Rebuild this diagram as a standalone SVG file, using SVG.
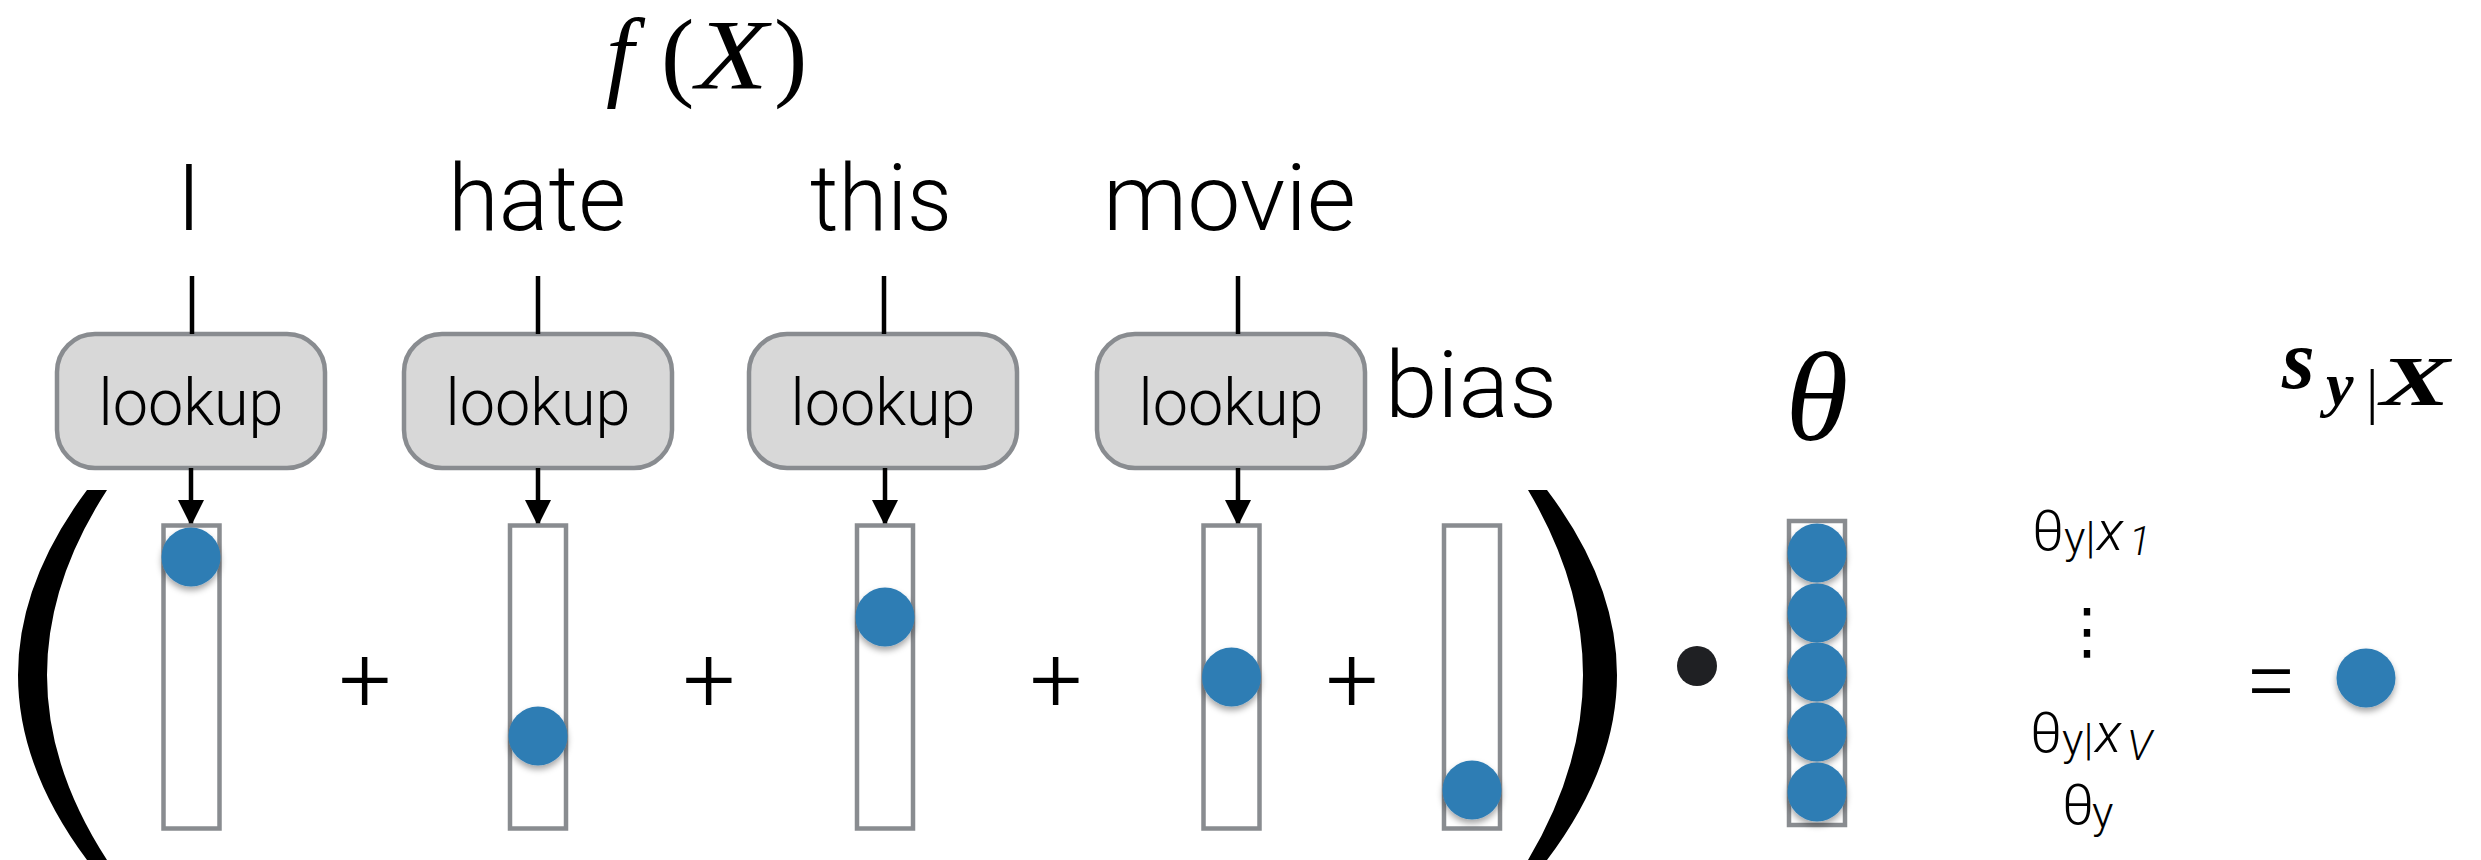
<svg xmlns="http://www.w3.org/2000/svg" width="2481" height="860" viewBox="0 0 2481 860">
<style>
.w{font-family:"Roboto","Liberation Sans",sans-serif;font-weight:300;font-size:93px;fill:#000}
.lk{font-family:"Roboto","Liberation Sans",sans-serif;font-weight:300;font-size:64px;fill:#000;text-anchor:middle}
.op{font-family:"Roboto","Liberation Sans",sans-serif;font-weight:300;font-size:93px;fill:#000;text-anchor:middle}
.box{fill:#d8d8d8;stroke:#898c90;stroke-width:4.5}
.vec{fill:#fff;stroke:#898c90;stroke-width:4.5}
.dotc{fill:#2f7db4;filter:url(#sh)}
.ln{stroke:#000;stroke-width:4.5;fill:none}
.math{font-family:"Liberation Serif",serif;fill:#000}
.lab{font-family:"Roboto","Liberation Sans",sans-serif;font-weight:300;fill:#000}
</style>
<defs>
<filter id="sh" x="-50%" y="-50%" width="200%" height="200%">
<feDropShadow dx="0" dy="4" stdDeviation="3" flood-color="#000" flood-opacity="0.35"/>
</filter>
<marker id="ah" viewBox="0 0 26 26" refX="26" refY="13" markerWidth="26" markerHeight="26" markerUnits="userSpaceOnUse" orient="auto">
<path d="M0,0 L26,13 L0,26 Z" fill="#000"/>
</marker>
</defs>
<rect width="2481" height="860" fill="#fff"/>

<g id="title">
<text class="math" x="606" y="88" font-size="100" font-style="italic">f</text>
<text class="math" x="661" y="88" font-size="100">(</text>
<text class="math" x="696" y="88" font-size="100" font-style="italic" textLength="72" lengthAdjust="spacingAndGlyphs">X</text>
<text class="math" x="774" y="88" font-size="100">)</text>
</g>

<g id="words">
<text id="w-I" class="w" x="189" y="230" text-anchor="middle">I</text>
<text id="w-hate" class="w" x="448" y="230" textLength="178" lengthAdjust="spacingAndGlyphs">hate</text>
<text id="w-this" class="w" x="810" y="230" textLength="142" lengthAdjust="spacingAndGlyphs">this</text>
<text id="w-movie" class="w" x="1103" y="230" textLength="253" lengthAdjust="spacingAndGlyphs">movie</text>
<text id="w-bias" class="w" x="1385" y="417" textLength="172" lengthAdjust="spacingAndGlyphs">bias</text>
</g>

<g id="lookup1"><rect class="box" x="57" y="334" width="268" height="134" rx="38"/><text class="lk" x="191" y="425" textLength="185" lengthAdjust="spacingAndGlyphs">lookup</text></g>
<g id="lookup2"><rect class="box" x="404" y="334" width="268" height="134" rx="38"/><text class="lk" x="538" y="425" textLength="185" lengthAdjust="spacingAndGlyphs">lookup</text></g>
<g id="lookup3"><rect class="box" x="749" y="334" width="268" height="134" rx="38"/><text class="lk" x="883" y="425" textLength="185" lengthAdjust="spacingAndGlyphs">lookup</text></g>
<g id="lookup4"><rect class="box" x="1097" y="334" width="268" height="134" rx="38"/><text class="lk" x="1231" y="425" textLength="185" lengthAdjust="spacingAndGlyphs">lookup</text></g>

<g id="connectors">
<line class="ln" x1="192" y1="276" x2="192" y2="334"/>
<line class="ln" x1="538" y1="276" x2="538" y2="334"/>
<line class="ln" x1="884" y1="276" x2="884" y2="334"/>
<line class="ln" x1="1238" y1="276" x2="1238" y2="334"/>
<line class="ln" x1="191" y1="468" x2="191" y2="526" marker-end="url(#ah)"/>
<line class="ln" x1="538" y1="468" x2="538" y2="526" marker-end="url(#ah)"/>
<line class="ln" x1="885" y1="468" x2="885" y2="526" marker-end="url(#ah)"/>
<line class="ln" x1="1238" y1="468" x2="1238" y2="526" marker-end="url(#ah)"/>
</g>

<g id="paren-left"><path d="M87,490 L107,490 Q-13,675 107,860 L87,860 Q-51,675 87,490 Z" fill="#000"/></g>
<g id="paren-right"><path d="M1528,490 L1547,490 Q1687,675 1547,860 L1528,860 Q1638,675 1528,490 Z" fill="#000"/></g>

<g id="vec1"><rect class="vec" x="163.5" y="525.5" width="56" height="303"/><circle class="dotc" cx="191" cy="557" r="29.5"/></g>
<g id="vec2"><rect class="vec" x="510" y="525.5" width="56" height="303"/><circle class="dotc" cx="538" cy="736" r="29.5"/></g>
<g id="vec3"><rect class="vec" x="857" y="525.5" width="56" height="303"/><circle class="dotc" cx="885" cy="617" r="29.5"/></g>
<g id="vec4"><rect class="vec" x="1203.5" y="525.5" width="56" height="303"/><circle class="dotc" cx="1231.5" cy="677" r="29.5"/></g>
<g id="vec-bias"><rect class="vec" x="1444" y="525.5" width="56" height="303"/><circle class="dotc" cx="1472" cy="790" r="29.5"/></g>

<g id="ops">
<text class="op" x="365" y="711">+</text>
<text class="op" x="709" y="711">+</text>
<text class="op" x="1056" y="711">+</text>
<text class="op" x="1352" y="711">+</text>
<circle cx="1697" cy="666" r="20" fill="#1f2023"/>
<text class="op" x="2271" y="712">=</text>
</g>

<g id="theta-vec">
<text class="math" x="1817" y="440" font-size="128" font-style="italic" text-anchor="middle">θ</text>
<rect class="vec" x="1789" y="521" width="56" height="304"/>
<circle class="dotc" cx="1817" cy="553" r="29.5"/>
<circle class="dotc" cx="1817" cy="613" r="29.5"/>
<circle class="dotc" cx="1817" cy="672" r="29.5"/>
<circle class="dotc" cx="1817" cy="732" r="29.5"/>
<circle class="dotc" cx="1817" cy="792" r="29.5"/>
</g>

<g id="theta-labels">
<text class="lab" y="550" font-size="56"><tspan x="2032">θ</tspan><tspan x="2064" y="553" font-size="45">y|</tspan><tspan x="2097" y="550" font-style="italic">x</tspan><tspan x="2129" y="555" font-size="40" font-style="italic">1</tspan></text>
<text x="2087" y="652" font-family="DejaVu Sans,sans-serif" font-size="62" text-anchor="middle">⋮</text>
<text class="lab" y="752" font-size="56"><tspan x="2030">θ</tspan><tspan x="2062" y="755" font-size="45">y|</tspan><tspan x="2095" y="752" font-style="italic">x</tspan><tspan x="2127" y="760" font-size="42" font-style="italic">V</tspan></text>
<text class="lab" y="824" font-size="56"><tspan x="2062">θ</tspan><tspan x="2092" y="828" font-size="45">y</tspan></text>
</g>

<g id="score">
<text class="math" x="2282" y="388" font-size="84" font-style="italic" font-weight="bold">s</text>
<text class="math" x="2326" y="405" font-size="62" font-style="italic" font-weight="bold">y</text>
<text class="math" x="2366" y="412" font-size="62">|</text>
<text class="math" x="2380" y="405" font-size="70" font-style="italic" font-weight="bold" textLength="70" lengthAdjust="spacingAndGlyphs">X</text>
<circle class="dotc" cx="2366" cy="678" r="29.5"/>
</g>
</svg>
